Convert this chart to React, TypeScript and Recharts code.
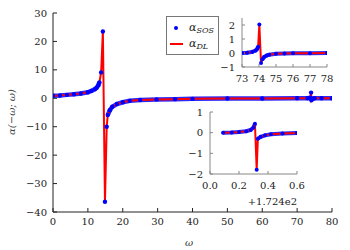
import { LineChart, Line, XAxis, YAxis, CartesianGrid } from 'recharts';

// main panel: alpha(-w;w) vs w
const omega = [0, 2, 4, 6, 8, 10, 11, 12, 12.5, 13, 13.3, 13.8, 14.3, 14.9, 15.4, 15.7, 16.3, 17, 18.3, 20, 22, 25, 29.7, 35, 40, 50, 60, 70, 73, 73.8, 74.0, 74.1, 74.3, 74.6, 75, 77, 80];
const alphaSOS = [0.9, 1.0, 1.2, 1.4, 1.7, 2.1, 2.6, 3.2, 3.7, 4.6, 5.6, 9.1, 23.5, -36.4, -10, -5.9, -4.2, -3.0, -2.0, -1.4, -0.9, -0.6, -0.4, -0.3, -0.2, -0.1, -0.05, 0, 0, 0.2, 2.0, -0.7, -0.3, -0.1, 0, 0, 0];
const alphaDL = [0.9, 1.0, 1.2, 1.4, 1.7, 2.1, 2.6, 3.2, 3.7, 4.6, 5.6, 9.1, 23.5, -36.4, -10, -5.9, -4.2, -3.0, -2.0, -1.4, -0.9, -0.6, -0.4, -0.3, -0.2, -0.1, -0.05, 0, 0, 0.2, 2.0, -0.7, -0.3, -0.1, 0, 0, 0];
// SOS samples that sit apart on the resonance (drawn as lone dots, not as the dense band)
const mainSparse = [13.8, 14.3, 14.9, 15.4, 74.0, 74.1];
const mainXTicks = [0, 10, 20, 30, 40, 50, 60, 70, 80];
const mainYTicks = [-40, -30, -20, -10, 0, 10, 20, 30];

// inset 1: zoom around w = 74
const inset1Omega = [73, 73.3, 73.6, 73.8, 73.9, 73.95, 74.02, 74.12, 74.2, 74.3, 74.45, 74.6, 75, 75.5, 76, 77, 78];
const inset1SOS = [0.0, 0.02, 0.08, 0.18, 0.3, 0.45, 2.03, -0.72, -0.45, -0.28, -0.18, -0.12, -0.06, -0.03, -0.02, -0.01, 0];
const inset1DL = [0.0, 0.02, 0.08, 0.18, 0.3, 0.45, 2.03, -0.72, -0.45, -0.28, -0.18, -0.12, -0.06, -0.03, -0.02, -0.01, 0];
const inset1Sparse = [74.02, 74.12];
const inset1XTicks = [73, 74, 75, 76, 77, 78];
const inset1YTicks = [-1, 0, 1, 2];

// inset 2: zoom around w = 172.4 + 0.31
const inset2Omega = [0.09, 0.15, 0.2, 0.25, 0.28, 0.3, 0.31, 0.322, 0.33, 0.35, 0.38, 0.42, 0.5, 0.6];
const inset2SOS = [0.0, 0.01, 0.03, 0.07, 0.13, 0.25, 0.43, -1.8, -0.29, -0.2, -0.13, -0.08, -0.04, -0.02];
const inset2DL = [0.0, 0.01, 0.03, 0.07, 0.13, 0.25, 0.43, -1.8, -0.29, -0.2, -0.13, -0.08, -0.04, -0.02];
const inset2Sparse = [0.322];
const inset2XTicks = [0, 0.2, 0.4, 0.6];
const inset2YTicks = [-2, -1, 0, 1];

const FONT = '"DejaVu Serif", serif';
const BLUE = '#0000ff';
const BLUE_LINE = '#2a2aff';
const RED = '#ff0000';
const tickStyle = { fontSize: 10, fill: '#222', fontFamily: FONT };

const fmtNum = (v: number) => (v < 0 ? '\u2212' + Math.abs(v) : String(v));
const blank = () => '';

type Row = { x: number; sos: number; band: number | null; dl: number };

const toRows = (xs: number[], a: number[], b: number[], sparse: number[]): Row[] =>
  xs.map((x, i) => ({ x, sos: a[i], band: sparse.includes(x) ? null : a[i], dl: b[i] }));

function seriesFor(bandW: number, dotR: number) {
  return [
    <Line key="band" dataKey="band" stroke={BLUE_LINE} strokeWidth={bandW} dot={false}
      activeDot={false} isAnimationActive={false} />,
    <Line key="sos" dataKey="sos" stroke="none" dot={{ r: dotR, fill: BLUE, stroke: 'none' }}
      activeDot={false} isAnimationActive={false} />,
    <Line key="dl" dataKey="dl" stroke={RED} strokeWidth={2} dot={false} activeDot={false} isAnimationActive={false} />,
  ];
}

interface InsetProps {
  rows: Row[];
  xDomain: [number, number];
  yDomain: [number, number];
  xTicks: number[];
  yTicks: number[];
  xFmt: (v: number) => string;
  left: number;
  top: number;
  plotW: number;
  plotH: number;
}

function Inset({ rows, xDomain, yDomain, xTicks, yTicks, xFmt, left, top, plotW, plotH }: InsetProps) {
  const yW = 28;
  const mTop = 6;
  const mRight = 12;
  const xH = 24;
  return (
    <div style={{ position: 'absolute', left: left - yW, top: top - mTop }}>
      <LineChart
        width={yW + plotW + mRight}
        height={mTop + plotH + xH}
        data={rows}
        margin={{ top: mTop, right: mRight, bottom: 0, left: 0 }}
      >
        <CartesianGrid horizontal={false} vertical={false} fill="#fff" />
        <XAxis dataKey="x" type="number" domain={xDomain} ticks={xTicks} interval={0} tickFormatter={xFmt}
          tickSize={-3} tickMargin={11} height={xH} stroke="#888" tick={tickStyle} allowDataOverflow />
        <XAxis xAxisId="top" orientation="top" dataKey="x" type="number" domain={xDomain} ticks={xTicks} interval={0}
          tickFormatter={blank} tickSize={-3} height={0} stroke="#888" allowDataOverflow />
        <YAxis type="number" domain={yDomain} ticks={yTicks} interval={0} tickFormatter={fmtNum}
          tickSize={-3} tickMargin={10} width={yW} stroke="#888" tick={tickStyle} allowDataOverflow />
        <YAxis yAxisId="right" orientation="right" type="number" domain={yDomain} ticks={yTicks} interval={0}
          tickFormatter={blank} tickSize={-3} width={0} stroke="#888" allowDataOverflow />
        {seriesFor(4, 2)}
      </LineChart>
    </div>
  );
}

export default function App() {
  const mainRows = toRows(omega, alphaSOS, alphaDL, mainSparse);
  return (
    <div style={{ position: 'absolute', left: 0, top: 0, width: 350, height: 250, background: '#fff' }}>
      <LineChart width={350} height={250} data={mainRows} margin={{ top: 13, right: 18, bottom: 8, left: 8 }}>
        <XAxis dataKey="x" type="number" domain={[0, 80]} ticks={mainXTicks} interval={0}
          tickSize={-4} tickMargin={10} height={30} stroke="#222" tick={tickStyle} allowDataOverflow />
        <XAxis xAxisId="top" orientation="top" dataKey="x" type="number" domain={[0, 80]} ticks={mainXTicks} interval={0}
          tickFormatter={blank} tickSize={-4} height={0} stroke="#222" allowDataOverflow />
        <YAxis type="number" domain={[-40, 30]} ticks={mainYTicks} interval={0} tickFormatter={fmtNum}
          tickSize={-4} tickMargin={10} width={45} stroke="#222" tick={tickStyle} allowDataOverflow />
        <YAxis yAxisId="right" orientation="right" type="number" domain={[-40, 30]} ticks={mainYTicks} interval={0}
          tickFormatter={blank} tickSize={-4} width={0} stroke="#222" allowDataOverflow />
        {seriesFor(4.5, 2.2)}
      </LineChart>

      <svg width={350} height={250} style={{ position: 'absolute', left: 0, top: 0, pointerEvents: 'none' }}>
        <text x={189} y={246} fontFamily={FONT} fontStyle="italic" fontSize={10} fill="#333" textAnchor="middle">ω</text>
        <text x={0} y={0} transform="translate(15,112) rotate(-90)" fontFamily={FONT} fontStyle="italic" fontSize={10}
          fill="#444" textAnchor="middle">α(−ω; ω)</text>
      </svg>

      <Inset rows={toRows(inset1Omega, inset1SOS, inset1DL, inset1Sparse)} xDomain={[73, 78]} yDomain={[-1, 2.5]}
        xTicks={inset1XTicks} yTicks={inset1YTicks} xFmt={(v) => String(v)} left={242} top={18} plotW={85} plotH={49} />
      <Inset rows={toRows(inset2Omega, inset2SOS, inset2DL, inset2Sparse)} xDomain={[0, 0.6]} yDomain={[-2, 1]}
        xTicks={inset2XTicks} yTicks={inset2YTicks} xFmt={(v) => v.toFixed(1)} left={210} top={112} plotW={87} plotH={62} />

      <svg width={350} height={250} style={{ position: 'absolute', left: 0, top: 0, pointerEvents: 'none' }}>
        <text x={297} y={205} fontFamily={FONT} fontSize={10} fill="#222" textAnchor="end">+1.724e2</text>
        <rect x={166.5} y={16.5} width={52} height={38} fill="#fff" stroke="#777" />
        <circle cx={176} cy={28} r={2} fill={BLUE} />
        <line x1={170} y1={44} x2={183} y2={44} stroke={RED} strokeWidth={2} />
        <text x={189} y={31} fontFamily={FONT} fontStyle="italic" fontSize={11} fill="#222">
          α<tspan fontSize={8} dy={2}>SOS</tspan>
        </text>
        <text x={189} y={47} fontFamily={FONT} fontStyle="italic" fontSize={11} fill="#222">
          α<tspan fontSize={8} dy={2}>DL</tspan>
        </text>
      </svg>
    </div>
  );
}
